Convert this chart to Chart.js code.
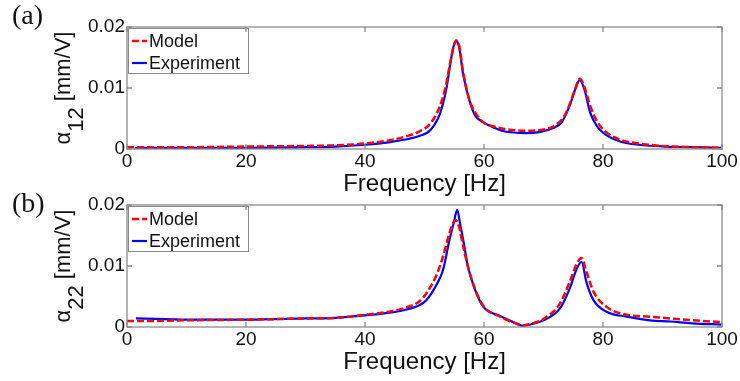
<!DOCTYPE html>
<html lang="en">
<head>
<meta charset="UTF-8">
<title>Frequency response - model vs experiment</title>
<script src="https://cdn.jsdelivr.net/npm/chart.js"></script>
<style>
    body { margin: 0; background: #fff; }
    .wrap { position: relative; width: 740px; height: 381px; overflow: hidden; }
    .panel { position: absolute; left: 0; width: 740px; }
    #boxA { top: 0; height: 200px; }
    #boxB { top: 190px; height: 191px; }
    .tag { position: absolute; left: 12px; font-family: "Liberation Serif", "Times New Roman", serif;
           font-size: 28px; line-height: 1; color: #111; }
</style>
</head>
<body>
<div class="wrap">
    <div class="panel" id="boxA"><canvas id="chartA"></canvas></div>
    <div class="panel" id="boxB"><canvas id="chartB"></canvas></div>
    <div class="tag" style="top:1px">(a)</div>
    <div class="tag" style="top:189px">(b)</div>
</div>

<script>
    // ---- data ----
    // (a) alpha_12
    const freqModelA = [0, 10, 20, 30, 35, 40, 44, 47, 49, 51, 52.5, 53.5, 54.3, 54.9, 55.3, 55.8, 56.5, 57.5, 58.5, 60,
                        62, 64, 67, 70, 72, 73.5, 74.5, 75.3, 76.1, 76.9, 77.8, 79, 80.5, 83, 86, 90, 95, 100];
    const modelA = [0.0003, 0.0003, 0.0004, 0.0005, 0.0006, 0.0009, 0.0014, 0.0021, 0.0028, 0.0042,
                    0.0068, 0.0100, 0.0140, 0.0168, 0.0178, 0.0170, 0.0126, 0.0082, 0.0060, 0.0043,
                    0.0036, 0.0032, 0.0030, 0.0032, 0.0039, 0.0054, 0.0076, 0.0098, 0.0115, 0.0101,
                    0.0072, 0.0045, 0.0028, 0.0015, 0.0009, 0.0005, 0.0003, 0.0002];
    const freqExpA = [1.3, 10, 20, 30, 35, 40, 44, 47, 49, 51, 52.6, 53.7, 54.5, 55.0, 55.3, 55.8, 56.5, 57.6, 58.5, 59.5,
                      61, 63, 65, 67, 69.5, 71.5, 73, 74.4, 75.3, 76.1, 76.9, 77.8, 79, 80.5, 83, 86, 90.7, 95, 100];
    const expA = [0.0002, 0.0002, 0.0002, 0.0003, 0.0004, 0.0007, 0.0011, 0.0016, 0.0021, 0.0031,
                  0.0058, 0.0100, 0.0150, 0.0172, 0.0177, 0.0168, 0.0122, 0.0078, 0.0055, 0.0046,
                  0.0038, 0.0030, 0.0027, 0.0026, 0.0028, 0.0034, 0.0043, 0.0071, 0.0097, 0.0113,
                  0.0097, 0.0061, 0.0037, 0.0023, 0.0012, 0.0007, 0.0004, 0.0003, 0.0002];

    // (b) alpha_22
    const freqModelB = [0, 5, 10, 20, 30, 35, 40, 44.5, 47.5, 49, 50.3, 52, 53.1, 54.2, 54.8, 55.3, 55.8, 56.5, 57.3, 58.5,
                        60, 62.7, 64.5, 66.7, 68.5, 70, 72.8, 74.4, 75.6, 76.4, 77.2, 78.4, 80.6, 84, 87.9, 91.3, 95, 100];
    const modelB = [0.0010, 0.0010, 0.0011, 0.0012, 0.0014, 0.0015, 0.0020, 0.0026, 0.0034, 0.0041,
                    0.0055, 0.0085, 0.0115, 0.0154, 0.0170, 0.0175, 0.0165, 0.0132, 0.0099, 0.0062,
                    0.0033, 0.0017, 0.0009, 0.0003, 0.0007, 0.0013, 0.0039, 0.0074, 0.0104, 0.0113,
                    0.0091, 0.0058, 0.0033, 0.0020, 0.0017, 0.0014, 0.0011, 0.0008];
    const freqExpB = [1.5, 6.3, 12, 20, 30, 35, 40, 44.5, 47.5, 49, 50.3, 52, 53.1, 54.2, 54.9, 55.5, 56, 56.5, 57.3, 58.5,
                      59.9, 62.7, 64.5, 66.6, 68.5, 70, 72.8, 74.4, 75.6, 76.4, 77.2, 78.4, 80.6, 84, 87.9, 91.3, 95, 100];
    const expB = [0.0014, 0.0013, 0.0012, 0.0012, 0.0014, 0.0015, 0.0019, 0.0024, 0.0030, 0.0035,
                  0.0044, 0.0069, 0.0093, 0.0143, 0.0170, 0.0192, 0.0168, 0.0143, 0.0099, 0.0061,
                  0.0033, 0.0018, 0.0010, 0.0002, 0.0006, 0.0011, 0.0031, 0.0063, 0.0096, 0.0107,
                  0.0074, 0.0044, 0.0025, 0.0017, 0.0011, 0.0009, 0.0006, 0.0004];

    const xTicks = { min: 0, max: 100, step: 20 };
    const yTicks = { min: 0, max: 0.02, step: 0.01 };
    const seriesNames = ['Model', 'Experiment'];

    const FONT = '"Liberation Sans", Arial, sans-serif';

    function toPoints(xs, ys) {
        return xs.map((x, i) => ({ x: x, y: ys[i] }));
    }

    // box round the plot + inward tick marks (matlab look)
    const framePlugin = {
        id: 'frame',
        afterDraw(chart) {
            const { ctx, chartArea: a, scales } = chart;
            ctx.save();
            ctx.strokeStyle = '#8a8a8a';
            ctx.lineWidth = 1.3;
            ctx.strokeRect(a.left, a.top, a.right - a.left, a.bottom - a.top);
            ctx.beginPath();
            scales.x.ticks.forEach(t => {
                const px = scales.x.getPixelForValue(t.value);
                ctx.moveTo(px, a.bottom); ctx.lineTo(px, a.bottom - 5);
                ctx.moveTo(px, a.top); ctx.lineTo(px, a.top + 5);
            });
            scales.y.ticks.forEach(t => {
                const py = scales.y.getPixelForValue(t.value);
                ctx.moveTo(a.left, py); ctx.lineTo(a.left + 5, py);
                ctx.moveTo(a.right, py); ctx.lineTo(a.right - 5, py);
            });
            ctx.stroke();
            ctx.restore();
        }
    };

    // legend box in the upper left corner
    const legendBox = {
        id: 'legendBox',
        afterDraw(chart) {
            const { ctx, chartArea } = chart;
            const x0 = chartArea.left + 1, y0 = chartArea.top + 1, w = 120, h = 45;
            ctx.save();
            ctx.fillStyle = '#fff';
            ctx.fillRect(x0, y0, w, h);
            ctx.strokeStyle = '#8a8a8a';
            ctx.lineWidth = 1;
            ctx.strokeRect(x0 + 0.5, y0 + 0.5, w, h);
            chart.data.datasets.forEach((ds, i) => {
                const yy = y0 + 13 + i * 22;
                ctx.strokeStyle = ds.borderColor;
                ctx.lineWidth = ds.borderWidth;
                ctx.setLineDash(ds.borderDash || []);
                ctx.beginPath();
                ctx.moveTo(x0 + 4, yy);
                ctx.lineTo(x0 + 19, yy);
                ctx.stroke();
                ctx.setLineDash([]);
                ctx.fillStyle = '#111';
                ctx.font = '18px ' + FONT;
                ctx.textBaseline = 'middle';
                ctx.fillText(ds.label, x0 + 21, yy + 1);
            });
            ctx.restore();
        }
    };

    // rotated y title with a subscript: alpha_12 [mm/V]
    const yTitle = {
        id: 'yTitle',
        afterDraw(chart, args, opts) {
            const { ctx, chartArea } = chart;
            const cy = (chartArea.top + chartArea.bottom) / 2;
            const parts = [['α', 0], [opts.sub, 13], [' [mm/V]', 0]];
            ctx.save();
            ctx.font = '22px ' + FONT;
            const total = parts.reduce((w, p) => w + ctx.measureText(p[0]).width, 0);
            ctx.translate(70, cy);
            ctx.rotate(-Math.PI / 2);
            ctx.fillStyle = '#111';
            ctx.textBaseline = 'alphabetic';
            let x = -total / 2;
            parts.forEach(p => {
                ctx.fillText(p[0], x, p[1]);
                x += ctx.measureText(p[0]).width;
            });
            ctx.restore();
        }
    };

    function buildChart(canvasId, fm, vm, fe, ve, cfg) {
        return new Chart(document.getElementById(canvasId), {
            type: 'line',
            data: {
                datasets: [{
                    label: seriesNames[0],
                    data: toPoints(fm, vm),
                    borderColor: '#ff0000',
                    borderDash: [7, 3],
                    borderWidth: 2.5,
                    pointRadius: 0,
                    cubicInterpolationMode: 'monotone',
                    fill: false
                }, {
                    label: seriesNames[1],
                    data: toPoints(fe, ve),
                    borderColor: '#0000ff',
                    borderWidth: 2.2,
                    pointRadius: 0,
                    cubicInterpolationMode: 'monotone',
                    fill: false
                }]
            },
            options: {
                responsive: true,
                maintainAspectRatio: false,
                animation: false,
                layout: { padding: { top: cfg.top, right: 18, left: 0, bottom: 0 } },
                plugins: {
                    legend: { display: false },
                    tooltip: { enabled: false },
                    yTitle: { sub: cfg.sub }
                },
                scales: {
                    x: {
                        type: 'linear',
                        min: xTicks.min, max: xTicks.max,
                        ticks: { stepSize: xTicks.step, color: '#111', padding: 1, font: { family: FONT, size: 19 } },
                        grid: { display: false, drawTicks: false },
                        border: { display: false },
                        title: {
                            display: true, text: 'Frequency [Hz]', color: '#111',
                            font: { family: FONT, size: 24, lineHeight: 1 },
                            padding: { top: 0, bottom: cfg.titlePad }
                        },
                        afterFit: s => { s.height = cfg.xh; }
                    },
                    y: {
                        min: yTicks.min, max: yTicks.max,
                        ticks: { stepSize: yTicks.step, color: '#111', padding: 2, font: { family: FONT, size: 19 } },
                        grid: { display: false, drawTicks: false },
                        border: { display: false },
                        afterFit: s => { s.width = 127; }
                    }
                }
            },
            plugins: [legendBox, framePlugin, yTitle]
        });
    }

    buildChart('chartA', freqModelA, modelA, freqExpA, expA, { top: 27, xh: 51, titlePad: 4, sub: '12' });
    buildChart('chartB', freqModelB, modelB, freqExpB, expB, { top: 15, xh: 54, titlePad: 7, sub: '22' });
</script>
</body>
</html>
